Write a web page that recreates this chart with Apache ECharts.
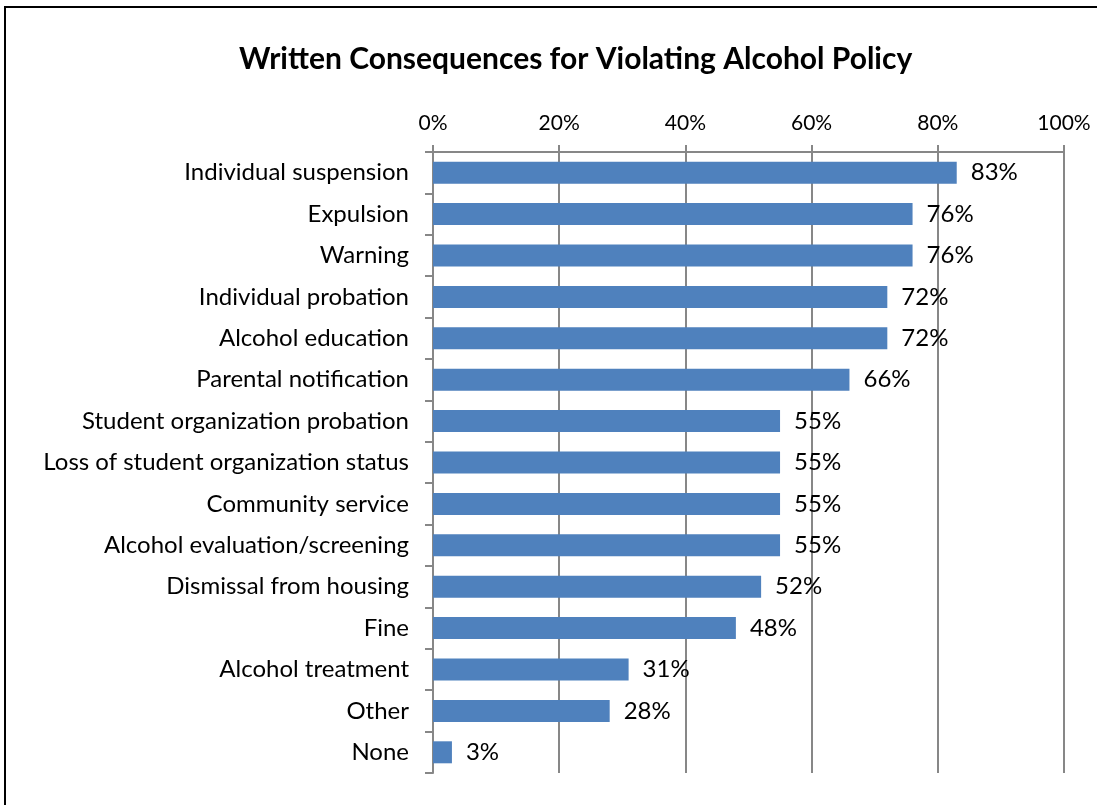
<!DOCTYPE html>
<html lang="en">
<head>
    <meta charset="UTF-8">
    <title>Written Consequences</title>
    <script src="https://cdn.jsdelivr.net/npm/echarts@6/dist/echarts.min.js"></script>
    <style>
        body { margin: 0; background: #fff; }
        #frame { position: absolute; left: 4px; top: 6px; width: 1093px; height: 799px;
                 border-left: 2px solid #000; border-top: 2px solid #000; box-sizing: border-box; }
        #chart1 { width: 1097px; height: 805px; }
    </style>
</head>
<body>
<div id="chart1"></div>
<div id="frame"></div>
<script type="text/javascript">
    var categories = ['Individual suspension', 'Expulsion', 'Warning', 'Individual probation',
        'Alcohol education', 'Parental notification', 'Student organization probation',
        'Loss of student organization status', 'Community service', 'Alcohol evaluation/screening',
        'Dismissal from housing', 'Fine', 'Alcohol treatment', 'Other', 'None'];
    var values = [83, 76, 76, 72, 72, 66, 55, 55, 55, 55, 52, 48, 31, 28, 3];

    var font = 'Lato';
    var gray = '#878787';
    var chart1 = echarts.init(document.getElementById('chart1'));

    var option = {
        backgroundColor: '#fff',
        animation: false,
        title: {
            text: 'Written Consequences for Violating Alcohol Policy',
            left: 234,
            top: 39,
            textStyle: { fontFamily: font, fontSize: 30, fontWeight: 'bold', color: '#000' }
        },
        grid: { left: 433, right: 33, top: 152, bottom: 32 },
        xAxis: {
            type: 'value',
            position: 'top',
            min: 0,
            max: 100,
            interval: 20,
            axisLine: { show: true, lineStyle: { color: gray, width: 2 } },
            axisTick: { show: true, length: 7, lineStyle: { color: gray, width: 2 } },
            axisLabel: { formatter: '{value}%', fontFamily: font, fontSize: 21, color: '#000', margin: 18 },
            splitLine: { show: true, lineStyle: { color: gray, width: 2 } }
        },
        yAxis: {
            type: 'category',
            inverse: true,
            data: categories,
            axisLine: { show: true, lineStyle: { color: gray, width: 2 } },
            axisTick: { show: true, length: 8, lineStyle: { color: gray, width: 2 } },
            axisLabel: { fontFamily: font, fontSize: 24, color: '#000', margin: 24 }
        },
        series: [{
            type: 'bar',
            data: values,
            barWidth: 22,
            itemStyle: { color: '#4F81BD' },
            label: {
                show: true,
                position: 'right',
                distance: 14,
                formatter: '{c}%',
                fontFamily: font,
                fontSize: 24,
                color: '#000'
            }
        }]
    };
    chart1.setOption(option);
</script>
</body>
</html>
